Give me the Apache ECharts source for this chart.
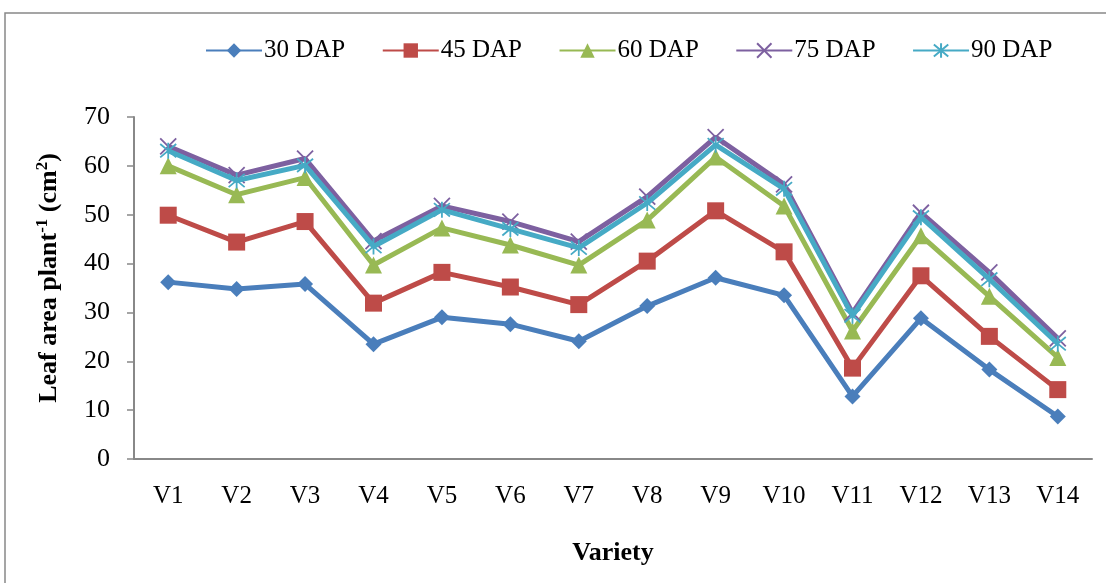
<!DOCTYPE html>
<html><head><meta charset="utf-8">
<script src="https://cdn.jsdelivr.net/npm/echarts@6/dist/echarts.min.js"></script>
<style>html,body{margin:0;padding:0;background:#fff}#c{width:1106px;height:583px}</style>
</head><body><div id="c"></div>
<script>
const categories = ['V1','V2','V3','V4','V5','V6','V7','V8','V9','V10','V11','V12','V13','V14'];
const seriesNames = ['30 DAP','45 DAP','60 DAP','75 DAP','90 DAP'];
const dap30 = [36.2,34.8,35.8,23.5,29.0,27.6,24.1,31.3,37.1,33.5,12.8,28.8,18.3,8.7];
const dap45 = [49.9,44.4,48.6,31.9,38.2,35.2,31.6,40.5,50.8,42.4,18.6,37.5,25.1,14.2];
const dap60 = [60.0,54.1,57.6,39.7,47.3,43.8,39.7,48.9,61.8,51.8,26.2,45.7,33.3,20.8];
const dap75 = [64.0,58.1,61.5,44.6,51.8,48.6,44.5,53.7,65.9,56.2,29.9,50.4,38.2,24.7];
const dap90 = [63.1,57.0,60.1,43.5,51.0,47.1,43.2,52.4,64.3,55.3,29.3,49.5,36.8,23.6];
const yTicks = {min:0, max:70, interval:10};

const colors = ['#4a7ebb','#be4b48','#98b954','#7d60a0','#46aac5'];
const symbols = ['diamond','rect','triangle','path://M0,0L10,10M10,0L0,10','path://M0,0L10,10M10,0L0,10M5,-1L5,11'];
const sizes = [16,17,17,16,16];
const dataAll = [dap30,dap45,dap60,dap75,dap90];
const font = 'Liberation Serif, Times New Roman, serif';

const chart = echarts.init(document.getElementById('c'), null, {renderer:'canvas'});
chart.setOption({
  animation:false,
  backgroundColor:'#fff',
  graphic:[{type:'rect',shape:{x:5,y:13,width:1120,height:600},style:{fill:'none',stroke:'#888',lineWidth:1.5},silent:true}],
  legend:{
    top:33, left:200, itemGap:36.5, itemWidth:56, itemHeight:18,
    textStyle:{fontFamily:font,fontSize:25,color:'#000',padding:[0,0,0,-3]},
    data:seriesNames
  },
  grid:{left:134,right:14,top:117,bottom:124,containLabel:false},
  xAxis:{
    type:'category',data:categories,boundaryGap:true,
    axisLine:{lineStyle:{color:'#888',width:2}},
    axisTick:{show:false},
    axisLabel:{fontFamily:font,fontSize:25,color:'#000',margin:25},
    name:'Variety',nameLocation:'middle',nameGap:81,
    nameTextStyle:{fontFamily:font,fontSize:26,fontWeight:'bold',color:'#000'}
  },
  yAxis:{
    type:'value',min:yTicks.min,max:yTicks.max,interval:yTicks.interval,
    axisLine:{show:true,lineStyle:{color:'#888',width:2}},
    axisTick:{show:true,length:7,lineStyle:{color:'#888',width:1.5}},
    splitLine:{show:false},
    axisLabel:{fontFamily:font,fontSize:26,color:'#000',margin:24},
    name:'Leaf area plant{sup|-1} (cm{sup|2})',nameLocation:'middle',nameGap:70,
    nameTextStyle:{fontFamily:font,fontSize:26,fontWeight:'bold',color:'#000',lineHeight:30,padding:[0,0,0,20],
      rich:{sup:{fontFamily:font,fontSize:17,fontWeight:'bold',color:'#000',verticalAlign:'top',lineHeight:30}}}
  },
  series: seriesNames.map((n,i)=>({
    name:n,type:'line',data:dataAll[i],
    symbol:symbols[i],symbolSize:sizes[i],showAllSymbol:true,
    lineStyle:{color:colors[i],width:5},
    itemStyle:{color:colors[i],borderColor:colors[i],borderWidth:i>=3?1.8:0},
    z:2+i
  }))
});
</script></body></html>
